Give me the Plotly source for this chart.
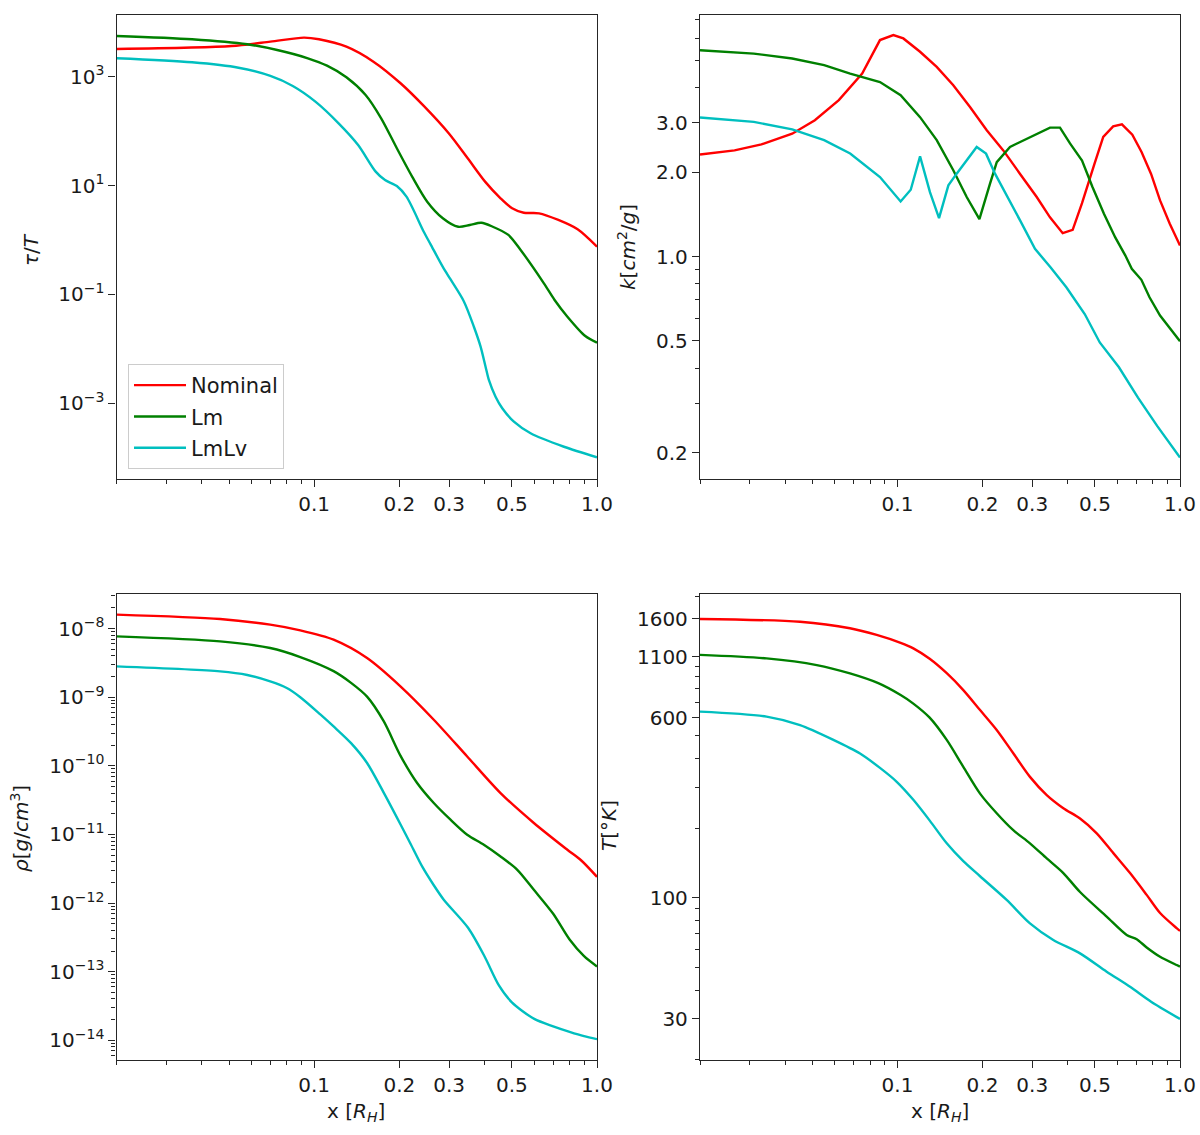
import plotly.graph_objects as go

# tau / T
tau_x_nominal = [0.02, 0.051, 0.07, 0.092, 0.104, 0.13, 0.162, 0.202, 0.244, 0.299,
                 0.349, 0.402, 0.456, 0.501, 0.551, 0.624, 0.73, 0.854, 1.0]
tau_nominal = [3230, 3664, 4395, 5212, 4864, 3556, 1888, 757, 290, 91.2,
               31.6, 11.8, 5.83, 3.82, 3.16, 3.09, 2.33, 1.57, 0.753]
tau_x_lm = [0.02, 0.037, 0.058, 0.074, 0.095, 0.111, 0.13, 0.152, 0.1725, 0.196,
            0.222, 0.251, 0.285, 0.323, 0.355, 0.39, 0.428, 0.486, 0.537, 0.649,
            0.707, 0.786, 0.909, 1.0]
tau_lm = [5598, 4864, 3936, 3090, 2178, 1592, 975, 461, 172, 48.4,
          14.6, 5.06, 2.51, 1.75, 1.88, 2.07, 1.75, 1.24, 0.655, 0.16,
          0.08, 0.039, 0.0172, 0.013]
tau_x_lmlv = [0.02, 0.037, 0.054, 0.07, 0.084, 0.101, 0.122, 0.143, 0.165, 0.178,
              0.196, 0.212, 0.244, 0.2577, 0.285, 0.3032, 0.338, 0.367, 0.3876, 0.4036,
              0.4146, 0.4378, 0.4624, 0.5083, 0.5823, 0.764, 1.0]
tau_lmlv = [2178, 1837, 1462, 1030, 675, 348, 139, 55.6, 18.0, 12.6,
            9.8, 6.24, 1.42, 0.84, 0.32, 0.19, 0.075, 0.0255, 0.011, 0.0047,
            0.00268, 0.00132, 0.00081, 0.000459, 0.000281, 0.000159, 0.000102]

# opacity k [cm^2/g]
k_x_nominal = [0.02, 0.0265, 0.033, 0.0424, 0.051, 0.062, 0.075, 0.0867, 0.0967, 0.1049,
               0.1202, 0.1377, 0.1576, 0.1806, 0.207, 0.2369, 0.2716, 0.3111, 0.3466, 0.3844,
               0.417, 0.45, 0.498, 0.535, 0.58, 0.623, 0.678, 0.731, 0.79, 0.85, 0.92, 1.0]
k_nominal = [2.31, 2.39, 2.51, 2.74, 3.06, 3.61, 4.49, 5.91, 6.16, 5.99,
             5.37, 4.74, 4.08, 3.41, 2.82, 2.39, 1.97, 1.63, 1.38, 1.211,
             1.245, 1.55, 2.14, 2.67, 2.91, 2.96, 2.72, 2.36, 1.97, 1.585, 1.31, 1.094]
k_x_lm = [0.02, 0.031, 0.0424, 0.055, 0.068, 0.0867, 0.1026, 0.1202, 0.1377, 0.1576,
          0.1758, 0.195, 0.2126, 0.2246, 0.2502, 0.2944, 0.3466, 0.376, 0.408, 0.45,
          0.49, 0.538, 0.59, 0.64, 0.675, 0.73, 0.78, 0.85, 1.0]
k_lm = [5.44, 5.29, 5.08, 4.81, 4.49, 4.19, 3.76, 3.14, 2.6, 2.03,
        1.63, 1.36, 1.82, 2.17, 2.46, 2.67, 2.88, 2.88, 2.53, 2.2,
        1.77, 1.42, 1.17, 1.01, 0.904, 0.826, 0.716, 0.616, 0.499]
k_x_lmlv = [0.02, 0.031, 0.0424, 0.055, 0.068, 0.0867, 0.1026, 0.1114, 0.1202, 0.1303,
            0.1403, 0.1514, 0.162, 0.1907, 0.2058, 0.2214, 0.2716, 0.3067, 0.348, 0.396,
            0.46, 0.52, 0.608, 0.71, 0.83, 1.0]
k_lmlv = [3.13, 3.02, 2.84, 2.60, 2.33, 1.92, 1.572, 1.73, 2.275, 1.696,
          1.37, 1.793, 1.974, 2.457, 2.327, 1.974, 1.345, 1.065, 0.916, 0.777,
          0.624, 0.494, 0.403, 0.314, 0.249, 0.192]

# density rho [g/cm^3]
rho_x_nominal = [0.02, 0.0465, 0.0699, 0.0893, 0.1171, 0.1538, 0.2018, 0.2648, 0.3475,
                 0.456, 0.598, 0.7855, 0.88, 1.0]
rho_nominal = [1.60e-8, 1.38e-8, 1.14e-8, 9.42e-9, 6.89e-9, 3.72e-9, 1.44e-9, 4.70e-10,
               1.37e-10, 4.01e-11, 1.47e-11, 5.98e-12, 4.17e-12, 2.41e-12]
rho_x_lm = [0.02, 0.0465, 0.0699, 0.0893, 0.1171, 0.135, 0.1538, 0.1761, 0.2018,
            0.2312, 0.2648, 0.3034, 0.3475, 0.398, 0.456, 0.5226, 0.598, 0.7, 0.8, 0.9, 1.0]
rho_lm = [7.69e-9, 6.50e-9, 5.21e-9, 3.85e-9, 2.40e-9, 1.62e-9, 1.02e-9, 4.47e-10,
          1.41e-10, 5.62e-11, 2.87e-11, 1.64e-11, 9.91e-12, 7.08e-12, 4.78e-12, 3.05e-12,
          1.56e-12, 6.98e-13, 2.94e-13, 1.68e-13, 1.19e-13]
rho_x_lmlv = [0.02, 0.0465, 0.058, 0.0699, 0.08, 0.0893, 0.1051, 0.1171, 0.135, 0.1538,
              0.1761, 0.2018, 0.22, 0.2408, 0.2648, 0.2872, 0.35, 0.4, 0.45, 0.5, 0.6,
              0.7, 0.8, 0.9, 1.0]
rho_lmlv = [2.81e-9, 2.38e-9, 2.11e-9, 1.70e-9, 1.36e-9, 1.0e-9, 5.62e-10, 3.75e-10,
            2.14e-10, 1.10e-10, 4.07e-11, 1.41e-11, 7.08e-12, 3.42e-12, 1.82e-12, 1.12e-12,
            4.37e-13, 1.68e-13, 6.31e-14, 3.58e-14, 2.05e-14, 1.60e-14, 1.33e-14, 1.15e-14,
            1.04e-14]

# temperature T [K]
temp_x_nominal = [0.02, 0.0452, 0.0679, 0.0844, 0.1026, 0.1138, 0.13, 0.1494, 0.171, 0.196,
                  0.2245, 0.257, 0.2944, 0.3375, 0.3864, 0.4427, 0.5073, 0.5808, 0.6655,
                  0.7622, 0.85, 0.973, 1.0]
temp_nominal = [1600, 1556, 1459, 1365, 1262, 1195, 1077, 933, 789, 647,
                531, 421, 333, 278, 244, 220, 190, 156, 128,
                103, 86, 74, 72]
temp_x_lm = [0.02, 0.0344, 0.0518, 0.0679, 0.0855, 0.1026, 0.1138, 0.13, 0.1494, 0.171,
             0.196, 0.2245, 0.257, 0.2944, 0.3375, 0.3864, 0.4427, 0.55, 0.6475, 0.7028,
             0.7622, 0.85, 0.973, 1.0]
temp_lm = [1120, 1081, 1012, 931, 845, 751, 690, 600, 481, 368,
           282, 232, 196, 172, 148, 128, 106, 83, 69.2, 66.3,
           61.1, 55.7, 51.3, 50.5]
temp_x_lmlv = [0.02, 0.0344, 0.0452, 0.0593, 0.0737, 0.0867, 0.0994, 0.1138, 0.1303, 0.1494,
               0.171, 0.196, 0.2435, 0.2944, 0.356, 0.4427, 0.55, 0.6655, 0.79, 1.0]
temp_lmlv = [637, 606, 557, 481, 420, 364, 317, 265, 215, 172,
             144, 124, 98, 77.6, 65.8, 57.6, 48, 41.3, 35.6, 30]

names = ["Nominal", "Lm", "LmLv"]
colors = ["#ff0000", "#008000", "#00bfbf"]

x_ticks = [0.1, 0.2, 0.3, 0.5, 1.0]
x_ticktext = ["0.1", "0.2", "0.3", "0.5", "1.0"]
x_minor = [0.02, 0.03, 0.04, 0.05, 0.06, 0.07, 0.08, 0.09, 0.4, 0.6, 0.7, 0.8, 0.9]

tau_ticks = [1e-3, 1e-1, 1e1, 1e3]
tau_ticktext = ["10<sup>\u22123</sup>", "10<sup>\u22121</sup>", "10<sup>1</sup>", "10<sup>3</sup>"]
k_ticks = [0.2, 0.5, 1.0, 2.0, 3.0]
k_ticktext = ["0.2", "0.5", "1.0", "2.0", "3.0"]
k_minor = [0.3, 0.4, 0.6, 0.7, 0.8, 0.9, 4, 5, 6, 7]
rho_ticks = [1e-14, 1e-13, 1e-12, 1e-11, 1e-10, 1e-9, 1e-8]
rho_ticktext = ["10<sup>\u2212%d</sup>" % p for p in range(14, 7, -1)]
rho_minor = [m * 10.0 ** p for p in range(-15, -7) for m in range(2, 10)]
temp_ticks = [30, 100, 600, 1100, 1600]
temp_ticktext = ["30", "100", "600", "1100", "1600"]
temp_minor = [20, 40, 50, 60, 70, 80, 90, 200, 300, 400, 500, 700, 800, 900, 1000, 2000]

fig = go.Figure()

panels = [
    ("x", "y", [tau_x_nominal, tau_x_lm, tau_x_lmlv], [tau_nominal, tau_lm, tau_lmlv], "spline"),
    ("x2", "y2", [k_x_nominal, k_x_lm, k_x_lmlv], [k_nominal, k_lm, k_lmlv], "linear"),
    ("x3", "y3", [rho_x_nominal, rho_x_lm, rho_x_lmlv], [rho_nominal, rho_lm, rho_lmlv], "spline"),
    ("x4", "y4", [temp_x_nominal, temp_x_lm, temp_x_lmlv], [temp_nominal, temp_lm, temp_lmlv], "spline"),
]
for p, (xa, ya, xs, ys, shape) in enumerate(panels):
    for i in range(3):
        fig.add_trace(go.Scatter(
            x=xs[i], y=ys[i], mode="lines", name=names[i], legendgroup=names[i],
            line=dict(color=colors[i], width=2.4, shape=shape, smoothing=0.8),
            xaxis=xa, yaxis=ya, showlegend=(p == 0),
        ))

axcol = "#262626"
tick_font = dict(family="DejaVu Sans", size=20, color="#1a1a1a")


def log_axis(dom, rng, tickvals, ticktext, minor_vals, anchor):
    ax = dict(type="log", domain=dom, range=rng, anchor=anchor,
              tickmode="array", tickvals=tickvals, ticktext=ticktext,
              showline=True, mirror=True, linecolor=axcol, linewidth=1.3,
              ticks="outside", ticklen=7, tickwidth=1.2, tickcolor=axcol,
              showgrid=False, zeroline=False, tickfont=tick_font, automargin=False)
    if minor_vals:
        ax["minor"] = dict(tickmode="array", tickvals=minor_vals, ticks="outside",
                           ticklen=4, tickwidth=1, tickcolor=axcol, showgrid=False)
    return ax


W, H = 1200, 1135
left_dom = [116.5 / W, 597 / W]
right_dom = [700 / W, 1180 / W]
top_dom = [1 - 479 / H, 1 - 15 / H]
bot_dom = [1 - 1060 / H, 1 - 594 / H]
x_rng = [-1.699, 0.0]

fig.update_layout(
    width=W, height=H,
    margin=dict(l=0, r=0, t=0, b=0),
    paper_bgcolor="white", plot_bgcolor="white",
    xaxis=log_axis(left_dom, x_rng, x_ticks, x_ticktext, x_minor, "y"),
    yaxis=log_axis(top_dom, [-4.391, 4.133], tau_ticks, tau_ticktext, None, "x"),
    xaxis2=log_axis(right_dom, x_rng, x_ticks, x_ticktext, x_minor, "y2"),
    yaxis2=log_axis(top_dom, [-0.793, 0.861], k_ticks, k_ticktext, k_minor, "x2"),
    xaxis3=log_axis(left_dom, x_rng, x_ticks, x_ticktext, x_minor, "y3"),
    yaxis3=log_axis(bot_dom, [-14.287, -7.496], rho_ticks, rho_ticktext, rho_minor, "x3"),
    xaxis4=log_axis(right_dom, x_rng, x_ticks, x_ticktext, x_minor, "y4"),
    yaxis4=log_axis(bot_dom, [1.300, 3.312], temp_ticks, temp_ticktext, temp_minor, "x4"),
    legend=dict(x=128 / W, y=1 - 364 / H, xanchor="left", yanchor="top",
                bgcolor="white", bordercolor="#cccccc", borderwidth=1,
                itemwidth=52, tracegroupgap=1,
                font=dict(family="DejaVu Sans", size=21, color="#1a1a1a")),
)

title_font = dict(family="DejaVu Sans", size=20, color="#1a1a1a")
labels = [
    ("<i>\u03c4</i>/<i>T</i>", 31, 250, -90),
    ("<i>k</i>[<i>cm</i><sup>2</sup>/<i>g</i>]", 627, 247, -90),
    ("<i>\u03c1</i>[<i>g</i>/<i>cm</i><sup>3</sup>]", 20, 829, -90),
    ("<i>T</i>[\u00b0<i>K</i>]", 609, 825, -90),
    ("x [<i>R</i><sub><i>H</i></sub>]", 356, 1112, 0),
    ("x [<i>R</i><sub><i>H</i></sub>]", 940, 1112, 0),
]
for text, px, py, ang in labels:
    fig.add_annotation(text=text, x=px / W, y=1 - py / H, xref="paper", yref="paper",
                       showarrow=False, textangle=ang, font=title_font,
                       xanchor="center", yanchor="middle")

fig.write_html("out.html", config={"displayModeBar": False},
               post_script="document.body.style.margin='0';")
